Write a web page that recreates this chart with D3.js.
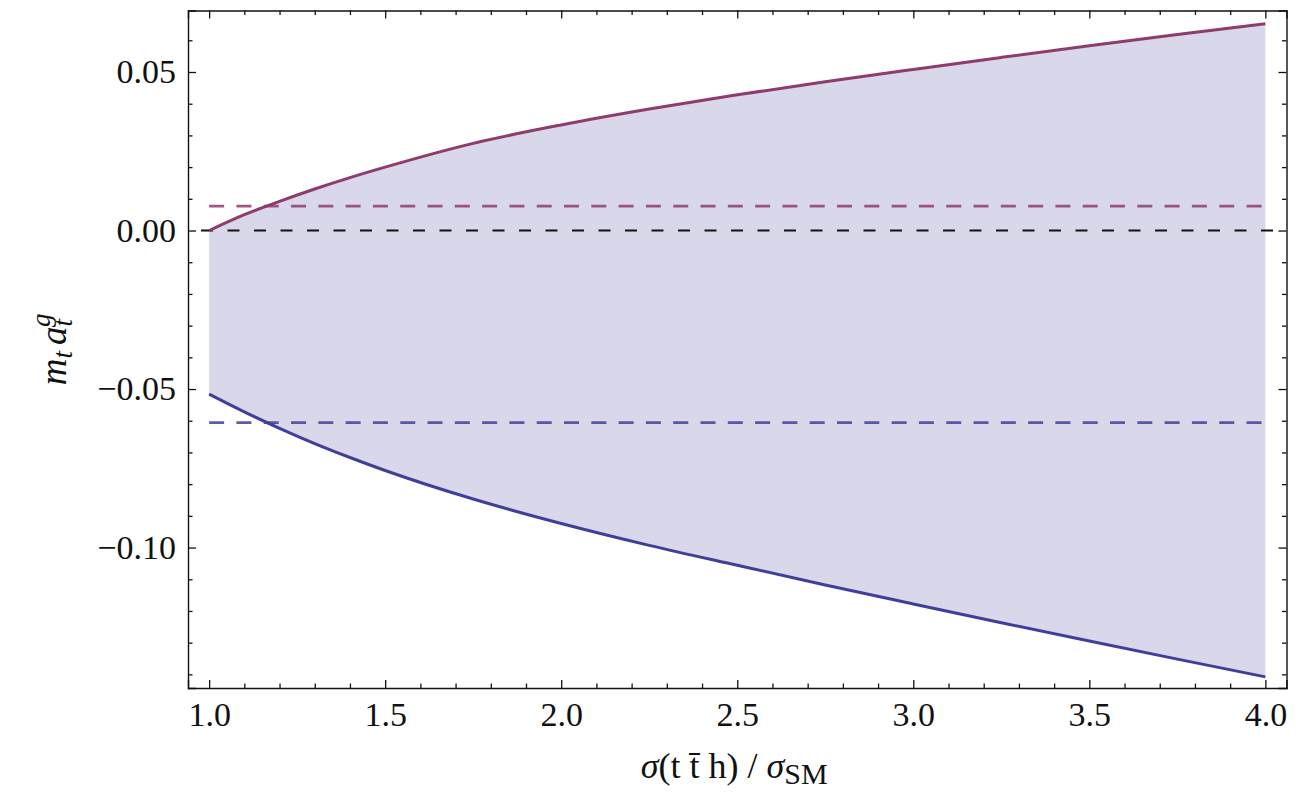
<!DOCTYPE html>
<html>
<head>
<meta charset="utf-8">
<title>m_t a_t^g vs sigma ratio</title>
<style>
body { margin: 0; background: #fff; }
svg text { font-family: 'Liberation Serif', 'Times New Roman', serif; fill: #111; }
</style>
</head>
<body>
<svg width="1296" height="794"></svg>
<script src="https://cdn.jsdelivr.net/npm/d3@7/dist/d3.min.js"></script>
<script>

// -------------------------------------------------------------------------
// DATA
// -------------------------------------------------------------------------
var ratio = [1.0, 1.1, 1.2, 1.3, 1.4, 1.5, 1.75, 2.0, 2.25, 2.5, 2.75, 3.0, 3.25, 3.5, 3.75, 4.0];
var upper = [0.0, 0.0050, 0.0092, 0.0131, 0.0167, 0.0200, 0.0275, 0.0333, 0.0383, 0.0428,
             0.0469, 0.0508, 0.0546, 0.0583, 0.0618, 0.0652];
var lower = [-0.0516, -0.0572, -0.0624, -0.0672, -0.0716, -0.0757, -0.0847, -0.0924, -0.0993, -0.1056,
             -0.1118, -0.1178, -0.1237, -0.1295, -0.1352, -0.1408];

var upperRef = 0.0077,   // dashed purple level
    zeroRef = 0.0,       // dashed black level
    lowerRef = -0.0606;  // dashed blue level

var xMajor = [1.0, 1.5, 2.0, 2.5, 3.0, 3.5, 4.0];
var yMajor = [-0.10, -0.05, 0.00, 0.05];

// -------------------------------------------------------------------------
// SETUP
// -------------------------------------------------------------------------
var color = {
  fill: '#d8d8ea',
  upper: '#8f3b6c',
  lower: '#3f3f9b'
};

var svg = d3.select("svg"),
    pLeft = 188, pRight = 1286.5, pTop = 10.5, pBottom = 688;

var x = d3.scaleLinear().domain([0.94, 4.06]).range([pLeft, pRight]);
var y = d3.scaleLinear().domain([-0.1443, 0.0694]).range([pBottom, pTop]);

var rows = ratio.map(function(r, i) { return { x: r, hi: upper[i], lo: lower[i] }; });

// filled band
svg.append("path")
    .datum(rows)
    .attr("fill", color.fill)
    .attr("d", d3.area()
      .curve(d3.curveMonotoneX)
      .x(function(d) { return x(d.x); })
      .y0(function(d) { return y(d.lo); })
      .y1(function(d) { return y(d.hi); }));

// reference lines
svg.append("line")
    .attr("x1", pLeft).attr("x2", pRight)
    .attr("y1", y(zeroRef)).attr("y2", y(zeroRef))
    .attr("stroke", "#111").attr("stroke-width", 2)
    .attr("stroke-dasharray", "12,14.5")
    .attr("stroke-dashoffset", -13);

[[upperRef, color.upper], [lowerRef, color.lower]].forEach(function(r) {
  svg.append("line")
      .attr("x1", x(1)).attr("x2", x(4))
      .attr("y1", y(r[0])).attr("y2", y(r[0]))
      .attr("stroke", r[1]).attr("stroke-width", 2.8)
      .attr("stroke-opacity", 0.85)
      .attr("stroke-dasharray", "15,12.3");
});

// curves
function curve(key, c) {
  svg.append("path")
      .datum(rows)
      .attr("fill", "none")
      .attr("stroke", c)
      .attr("stroke-width", 3)
      .attr("d", d3.line()
        .curve(d3.curveMonotoneX)
        .x(function(d) { return x(d.x); })
        .y(function(d) { return y(d[key]); }));
}
curve("hi", color.upper);
curve("lo", color.lower);

// -------------------------------------------------------------------------
// FRAME + TICKS (inward, on all four sides)
// -------------------------------------------------------------------------
var xMinor = d3.range(1.0, 4.001, 0.1).filter(function(v) { return Math.abs(v * 2 - Math.round(v * 2)) > 1e-6; });
var yMinor = d3.range(-0.14, 0.0601, 0.01).filter(function(v) { return Math.abs(v * 20 - Math.round(v * 20)) > 1e-6; });

function frameSide(axisFn, scale, pos, major, minor, labels) {
  var g = svg.append("g").attr("transform", pos);
  g.call(axisFn(scale).tickValues(major).tickSize(-8).tickPadding(labels ? (axisFn === d3.axisBottom ? 14 : 12) : 0)
      .tickFormat(labels ? labels : ""));
  g.append("g").call(axisFn(scale).tickValues(minor).tickSize(-4.5).tickFormat(""))
    .select(".domain").remove();
  g.selectAll(".domain").attr("stroke", "#111").attr("stroke-width", 1.4);
  g.selectAll(".tick line").attr("stroke", "#111").attr("stroke-width", 1.3);
  g.selectAll("text").style("font-size", "34px").attr("fill", "#111");
  return g;
}

frameSide(d3.axisBottom, x, "translate(0," + pBottom + ")", xMajor, xMinor, d3.format(".1f"));
frameSide(d3.axisTop, x, "translate(0," + pTop + ")", xMajor, xMinor, null);
frameSide(d3.axisLeft, y, "translate(" + pLeft + ",0)", yMajor, yMinor, d3.format(".2f"));
frameSide(d3.axisRight, y, "translate(" + pRight + ",0)", yMajor, yMinor, null);

// -------------------------------------------------------------------------
// AXIS LABELS
// -------------------------------------------------------------------------
var xl = svg.append("text")
    .attr("x", (pLeft + pRight) / 2 - 3)
    .attr("y", 778)
    .attr("text-anchor", "middle")
    .style("font-size", "36px");
xl.append("tspan").style("font-style", "italic").text("\u03c3");
xl.append("tspan").text("(t t\u0304 h) / ");
xl.append("tspan").style("font-style", "italic").text("\u03c3");
xl.append("tspan").attr("dy", 6).style("font-size", "30px").text("SM");

var yl = svg.append("text")
    .attr("transform", "translate(66," + ((pTop + pBottom) / 2) + ") rotate(-90)")
    .attr("text-anchor", "middle")
    .style("font-size", "37px")
    .style("font-style", "italic");
yl.append("tspan").text("m");
yl.append("tspan").attr("dy", 6).style("font-size", "27px").text("t");
yl.append("tspan").attr("dy", -6).attr("dx", 6).text("a");
yl.append("tspan").attr("dy", 6).style("font-size", "27px").text("t");
yl.append("tspan").attr("dx", -8).attr("dy", -22).style("font-size", "27px").text("g");

</script>
</body>
</html>
